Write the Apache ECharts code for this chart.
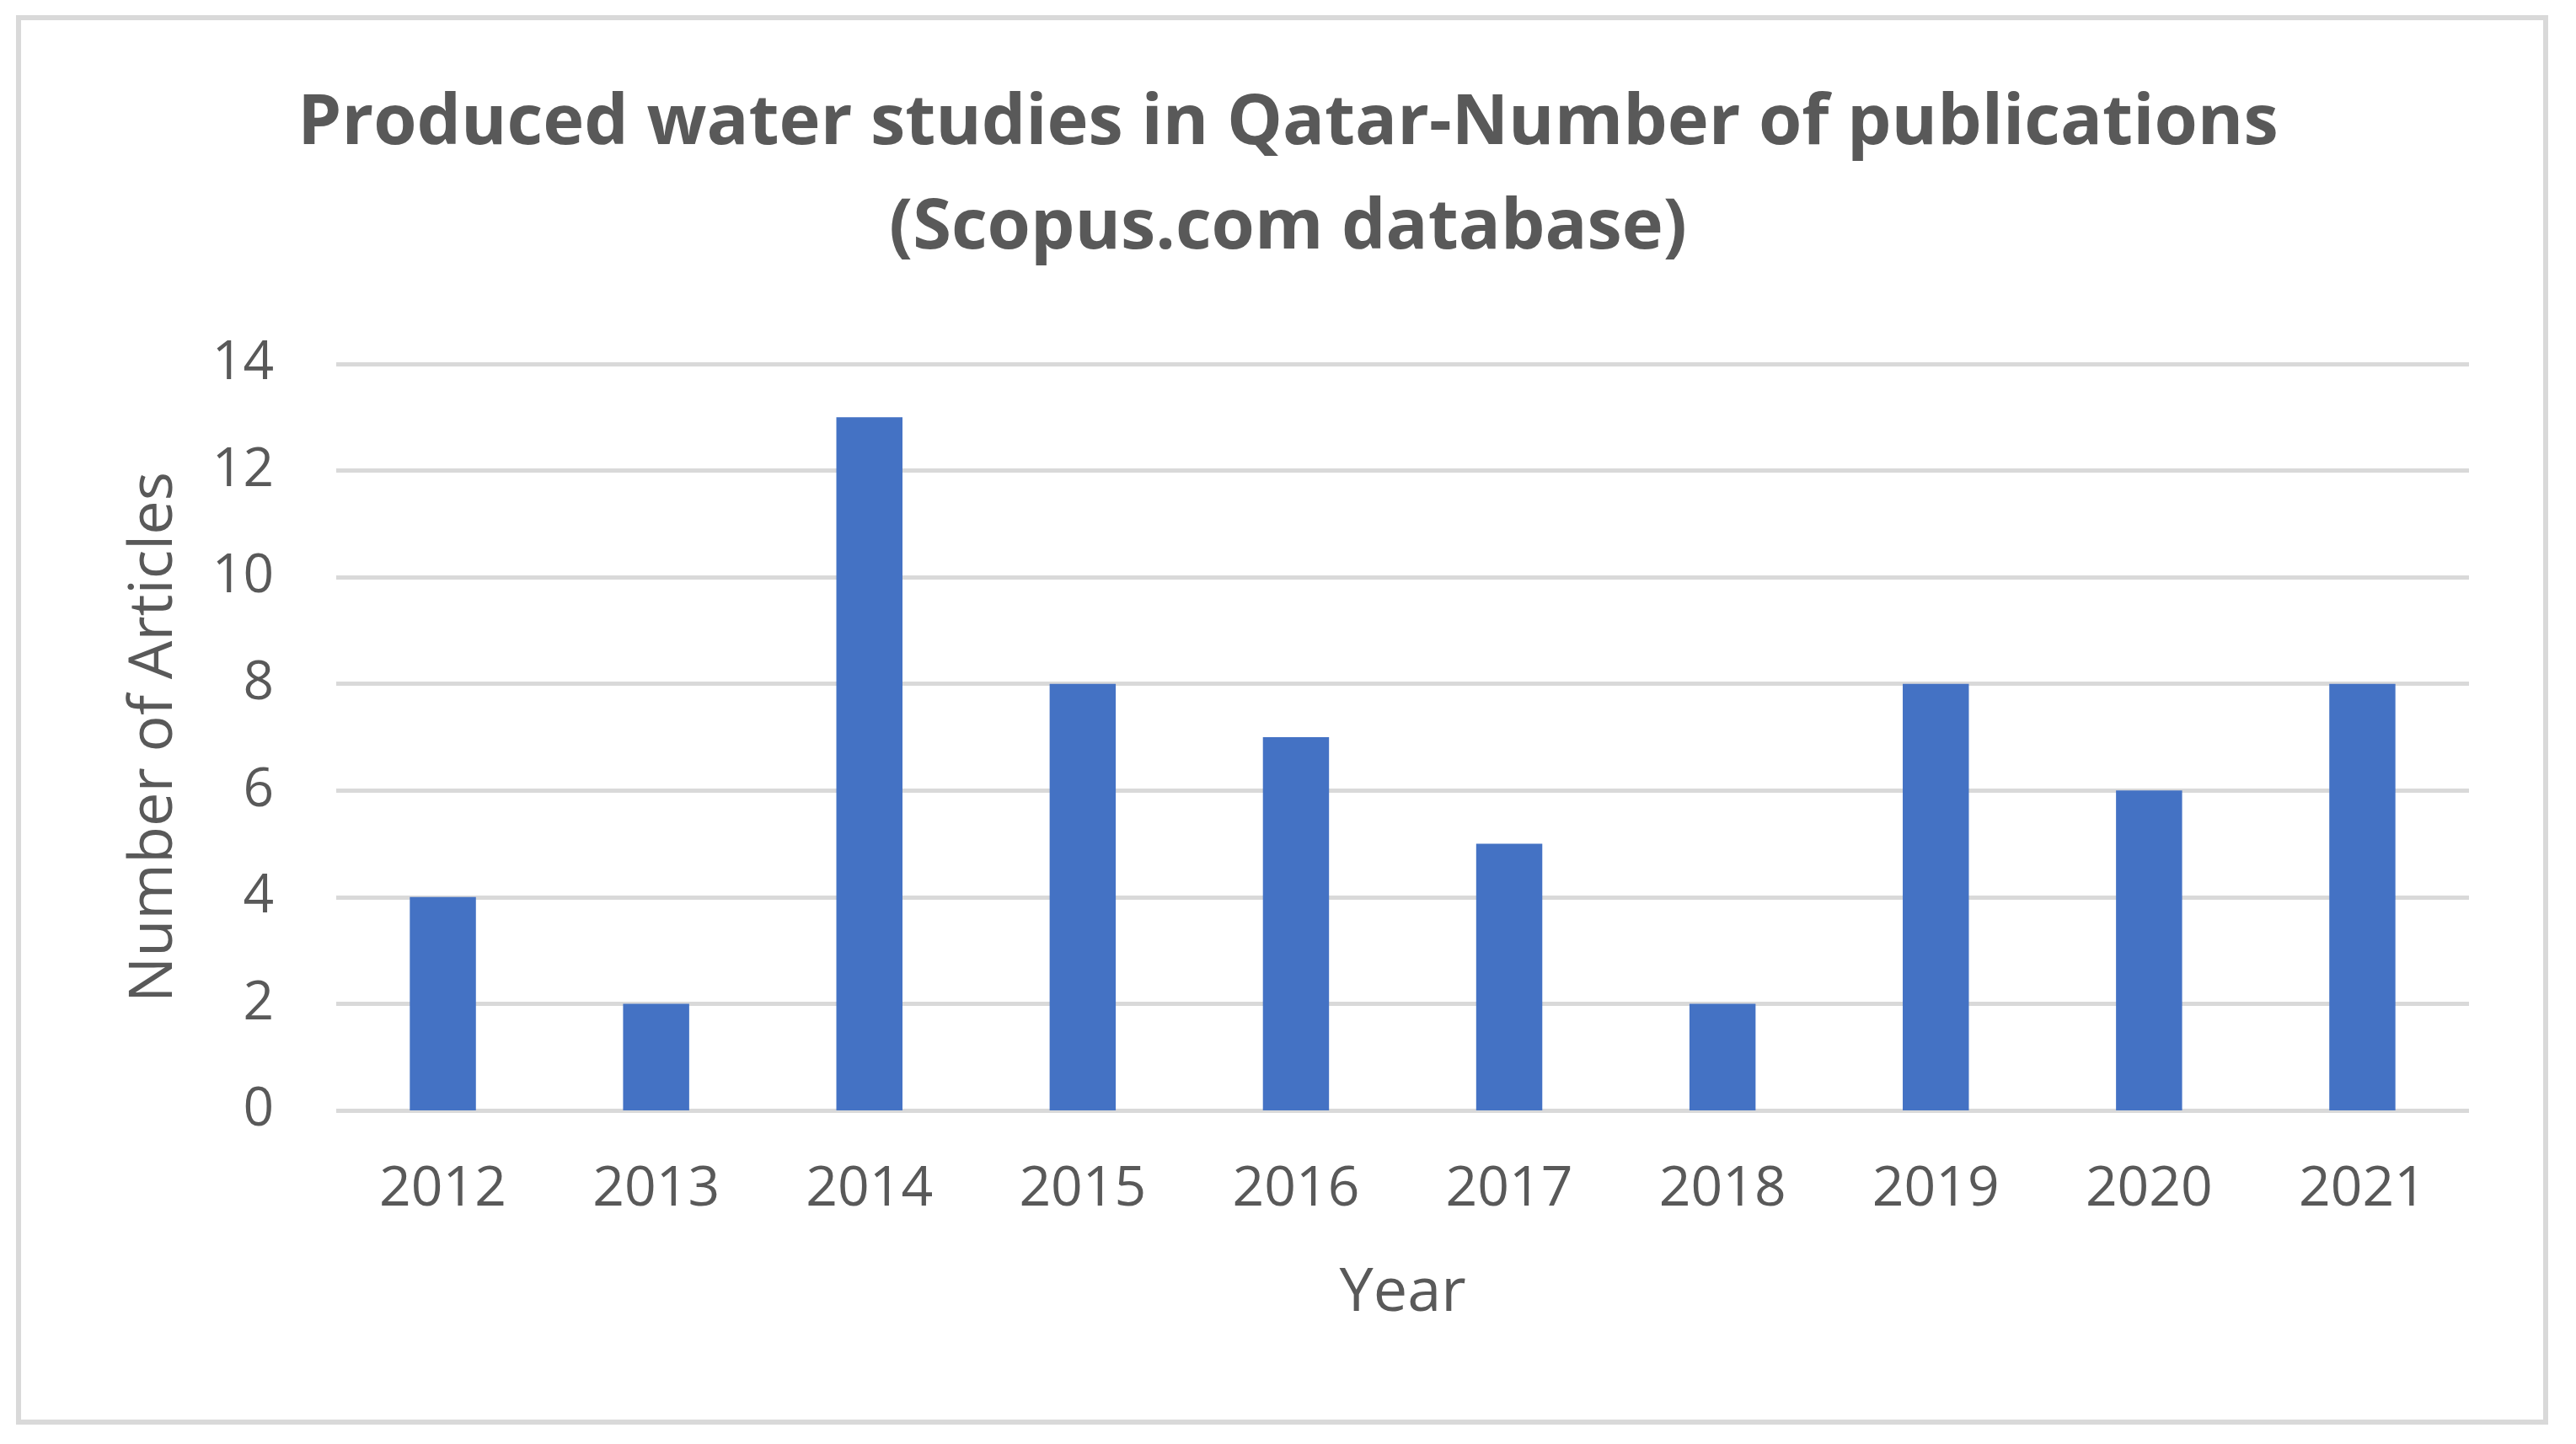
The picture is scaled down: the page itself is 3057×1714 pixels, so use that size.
<!DOCTYPE html>
<html>
<head>
<meta charset="utf-8">
<script src="https://cdn.jsdelivr.net/npm/echarts@6/dist/echarts.min.js"></script>
<style>
  html, body { margin: 0; padding: 0; background: #fff; }
  #main { width: 3057px; height: 1714px; }
</style>
</head>
<body>
<div id="main"></div>
<script>
// publications per year (Scopus)
const years = ['2012', '2013', '2014', '2015', '2016', '2017', '2018', '2019', '2020', '2021'];
const articles = [4, 2, 13, 8, 7, 5, 2, 8, 6, 8];
const yTicks = [0, 2, 4, 6, 8, 10, 12, 14];

const chart = echarts.init(document.getElementById('main'));
const grey = '#595959';
const font = 'Open Sans';

const option = {
  backgroundColor: '#ffffff',
  animation: false,
  title: {
    text: 'Produced water studies in Qatar-Number of publications\n(Scopus.com database)',
    left: 'center',
    top: 80,
    textStyle: {
      fontFamily: font,
      fontWeight: 'bold',
      fontSize: 83,
      lineHeight: 124,
      color: grey
    }
  },
  graphic: [{
    type: 'rect',
    shape: { x: 22, y: 21, width: 2999, height: 1667 },
    style: { fill: 'none', stroke: '#d9d9d9', lineWidth: 6 },
    silent: true
  }],
  grid: { left: 399, right: 127, top: 432, bottom: 396 },
  xAxis: {
    type: 'category',
    data: years,
    name: 'Year',
    nameLocation: 'middle',
    nameGap: 181,
    nameTextStyle: { fontFamily: font, fontSize: 72, color: grey },
    axisLine: { show: false },
    axisTick: { show: false },
    axisLabel: { fontFamily: font, fontSize: 66, color: grey, margin: 61 }
  },
  yAxis: {
    type: 'value',
    min: yTicks[0],
    max: yTicks[yTicks.length - 1],
    interval: 2,
    name: 'Number of Articles',
    nameLocation: 'middle',
    nameGap: 180,
    nameTextStyle: { fontFamily: font, fontSize: 72, color: grey },
    axisLine: { show: false },
    axisTick: { show: false },
    axisLabel: { fontFamily: font, fontSize: 64, color: grey, margin: 74 },
    splitLine: { lineStyle: { color: '#d9d9d9', width: 5 } }
  },
  series: [{
    type: 'bar',
    data: articles,
    barWidth: '31%',
    itemStyle: { color: '#4472c4' }
  }]
};

chart.setOption(option);
</script>
</body>
</html>
